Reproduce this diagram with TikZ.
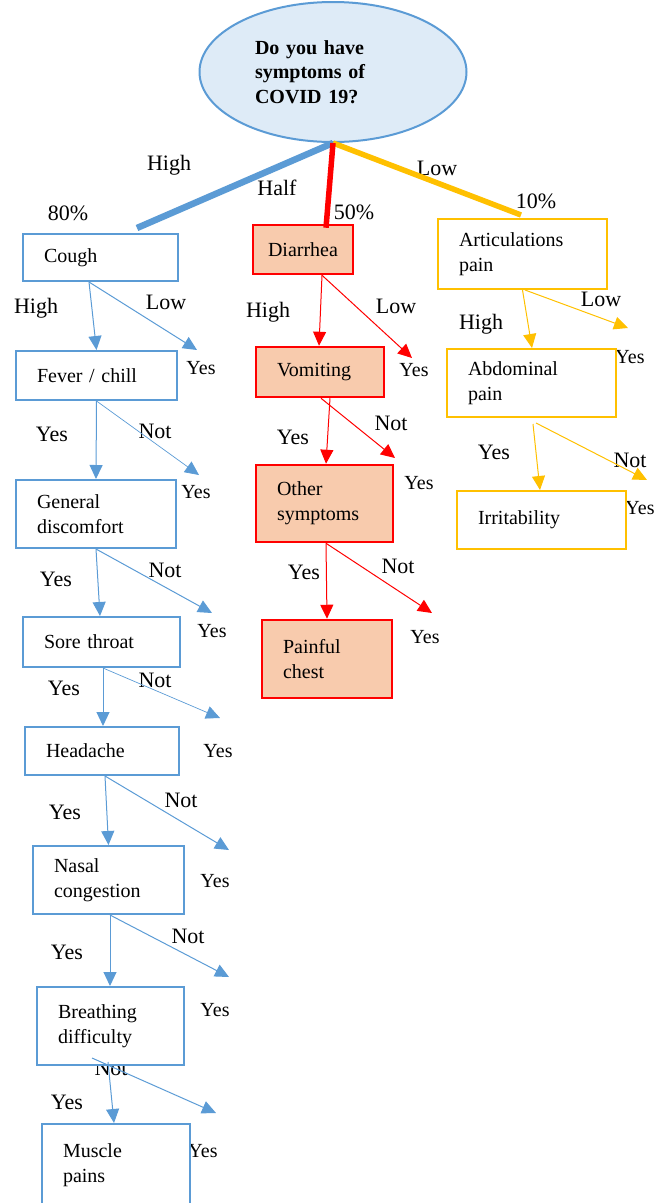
\documentclass[tikz,border=0pt]{standalone}
\usepackage{fontspec}
\setmainfont{Liberation Serif}
\usepackage{xcolor}
\usepackage{tikz}
\usetikzlibrary{arrows.meta,positioning,shapes.geometric}

\definecolor{symblue}{HTML}{5B9BD5}
\definecolor{symred}{HTML}{FF0000}
\definecolor{symgold}{HTML}{FFC000}
\definecolor{peach}{HTML}{F8CBAD}
\definecolor{skyfill}{HTML}{DEEBF7}

\begin{document}
\begin{tikzpicture}[
  x=1pt, y=-1pt,
  every node/.style={font=\fontsize{20}{25}\selectfont},
  question/.style={ellipse, draw=symblue, line width=2pt, fill=skyfill, inner sep=0pt, minimum width=267pt, minimum height=140pt, align=left, text width=156pt, font=\fontsize{20}{24.5}\selectfont\bfseries},
  symbox/.style={draw, line width=2pt, fill=white, align=left, inner xsep=21pt, inner ysep=0pt},
  bluebox/.style={symbox, draw=symblue},
  redbox/.style={symbox, draw=symred, line width=2.5pt, fill=peach},
  goldbox/.style={symbox, draw=symgold},
  branch/.style={font=\fontsize{22}{24}\selectfont},
  endyes/.style={font=\fontsize{20}{24}\selectfont},
  trunk/.style={line width=5.5pt},
  edge/.style={-{Triangle[length=14pt,width=13pt]}, line width=1pt}
]
\useasboundingbox (0,0) rectangle (657,1203);

% labels on the branches
\node[branch] (high) at (169,165) {High};
\node[branch] (half) at (277,188) {Half};
\node[branch] (low) at (437,168) {Low};
\node[branch] (pcthigh) at (68,213) {80\%};
\node[branch] (pcthalf) at (354,212) {50\%};
\node[branch] (pctlow) at (536,201) {10\%};

\node[branch] (coughhigh) at (36,308) {High};
\node[branch] (coughlow) at (166,302) {Low};
\node[branch] (feveryes) at (52,434) {Yes};
\node[branch] (feverno) at (155,431) {Not};
\node[branch] (discomfortyes) at (56,579) {Yes};
\node[branch] (discomfortno) at (165,570) {Not};
\node[branch] (throatyes) at (64,688) {Yes};
\node[branch] (throatno) at (155,680) {Not};
\node[branch] (headacheyes) at (65,812) {Yes};
\node[branch] (headacheno) at (181,800) {Not};
\node[branch] (nasalyes) at (67,952) {Yes};
\node[branch] (nasalno) at (188,936) {Not};
\node[branch] (breathingno) at (111,1068) {Not};
\node[branch] (breathingyes) at (67,1102) {Yes};

\node[branch] (diarrheahigh) at (268,312) {High};
\node[branch] (diarrhealow) at (396,306) {Low};
\node[branch] (vomitingyes) at (293,437) {Yes};
\node[branch] (vomitingno) at (391,423) {Not};
\node[branch] (otheryes) at (304,572) {Yes};
\node[branch] (otherno) at (398,566) {Not};

\node[branch] (articularhigh) at (481,324) {High};
\node[branch] (articularlow) at (601,299) {Low};
\node[branch] (abdominalyes) at (494,452) {Yes};
\node[branch] (abdominalno) at (630,460) {Not};

% answers at the open arrow ends
\foreach \px/\py [count=\i] in {201/368, 196/492, 212/631, 218/751, 215/881, 215/1010, 203/1151,
    414/370, 419/483, 425/637, 630/357, 640/508}
  \node[endyes] (answer\i) at (\px,\py) {Yes};

% question and symptom boxes
\node[question] (covid) at (333,72) {Do you have\\symptoms of\\COVID 19?};

\node[bluebox, text width=113pt, minimum height=47pt] (cough) at (100.5,257.5) {Cough};
\node[bluebox, text width=119pt, minimum height=49pt] (fever) at (96.5,375.5) {Fever / chill};
\node[bluebox, text width=118pt, minimum height=68pt] (discomfort) at (96,514) {General\\discomfort};
\node[bluebox, text width=115pt, minimum height=50pt] (throat) at (101.5,642) {Sore throat};
\node[bluebox, text width=112pt, minimum height=48pt] (headache) at (102,751) {Headache};
\node[bluebox, text width=109pt, minimum height=68pt] (nasal) at (108.5,880) {Nasal\\congestion};
\node[bluebox, text width=105pt, minimum height=78pt] (breathing) at (110.5,1026) {Breathing\\difficulty};
\node[bluebox, text width=106pt, minimum height=82pt] (muscle) at (116,1165) {Muscle\\pains};

\node[redbox, text width=70pt, inner xsep=15pt, minimum height=49pt] (diarrhea) at (303,249.5) {Diarrhea};
\node[redbox, text width=86pt, minimum height=50pt] (vomiting) at (320,372) {Vomiting};
\node[redbox, text width=95pt, minimum height=77pt] (other) at (324.5,503.5) {Other\\symptoms};
\node[redbox, text width=88pt, minimum height=78pt] (chest) at (327,659) {Painful\\chest};

\node[goldbox, text width=127pt, minimum height=70pt] (articular) at (522.5,254) {Articulations\\pain};
\node[goldbox, text width=127pt, minimum height=68pt] (abdominal) at (531.5,383) {Abdominal\\pain};
\node[goldbox, text width=127pt, minimum height=58pt] (irritability) at (541.5,520) {Irritability};

% open ends of the side arrows
\coordinate (coughend) at (197,350);
\coordinate (feverend) at (199,475);
\coordinate (discomfortend) at (212,613);
\coordinate (throatend) at (220,718);
\coordinate (headacheend) at (229,850);
\coordinate (nasalend) at (229,977);
\coordinate (breathingend) at (216,1113);
\coordinate (diarrheaend) at (412,358);
\coordinate (vomitingend) at (395,458);
\coordinate (otherend) at (432,613);
\coordinate (articularend) at (628,328);
\coordinate (abdominalend) at (647,480);

% thick branches from the question
\draw[trunk, symblue, line width=6.5pt] (covid.south) -- ([xshift=36.5pt,yshift=5pt]cough.north);
\draw[trunk, symgold] (covid.south) -- ([xshift=-1.5pt,yshift=3pt]articular.north);
\draw[trunk, symred] (covid.south) -- ([xshift=23pt,yshift=-4pt]diarrhea.north);

% blue column
\draw[edge, symblue] ([xshift=-11.5pt]cough.south) -- (fever.north);
\draw[edge, symblue] ([xshift=-11.5pt]cough.south) -- (coughend);
\draw[edge, symblue] (fever.south) -- (discomfort.north);
\draw[edge, symblue, line width=0.7pt] (fever.south) -- (feverend);
\draw[edge, symblue] (discomfort.south) -- ([xshift=-1.5pt]throat.north);
\draw[edge, symblue] (discomfort.south) -- (discomfortend);
\draw[edge, symblue] ([xshift=1.5pt]throat.south) -- ([xshift=1pt]headache.north);
\draw[edge, symblue, line width=0.7pt] ([xshift=1.5pt]throat.south) -- (throatend);
\draw[edge, symblue] ([xshift=3pt]headache.south) -- (nasal.north);
\draw[edge, symblue] ([xshift=3pt]headache.south) -- (headacheend);
\draw[edge, symblue] ([xshift=1.5pt]nasal.south) -- ([xshift=-0.5pt]breathing.north);
\draw[edge, symblue] ([xshift=1.5pt]nasal.south) -- (nasalend);
\draw[edge, symblue] ([xshift=-2.5pt,yshift=4pt]breathing.south) -- ([xshift=-2pt]muscle.north);
\draw[edge, symblue] ([xshift=-18.5pt,yshift=8pt]breathing.south) -- (breathingend);

% red column
\draw[edge, symred] ([xshift=19pt]diarrhea.south) -- ([xshift=-1pt]vomiting.north);
\draw[edge, symred] ([xshift=19pt]diarrhea.south) -- (diarrheaend);
\draw[edge, symred] ([xshift=10pt]vomiting.south) -- ([xshift=1.5pt]other.north);
\draw[edge, symred] ([xshift=1pt]vomiting.south) -- (vomitingend);
\draw[edge, symred] ([xshift=1.5pt]other.south) -- (chest.north);
\draw[edge, symred] ([xshift=1.5pt]other.south) -- (otherend);

% yellow column
\draw[edge, symgold] (articular.south) -- ([xshift=0.5pt]abdominal.north);
\draw[edge, symgold] ([xshift=2.5pt]articular.south) -- (articularend);
\draw[edge, symgold] ([xshift=1.5pt,yshift=-6pt]abdominal.south) -- ([xshift=-1.5pt]irritability.north);
\draw[edge, symgold] ([xshift=4.5pt,yshift=-5pt]abdominal.south) -- (abdominalend);
\end{tikzpicture}
\end{document}
